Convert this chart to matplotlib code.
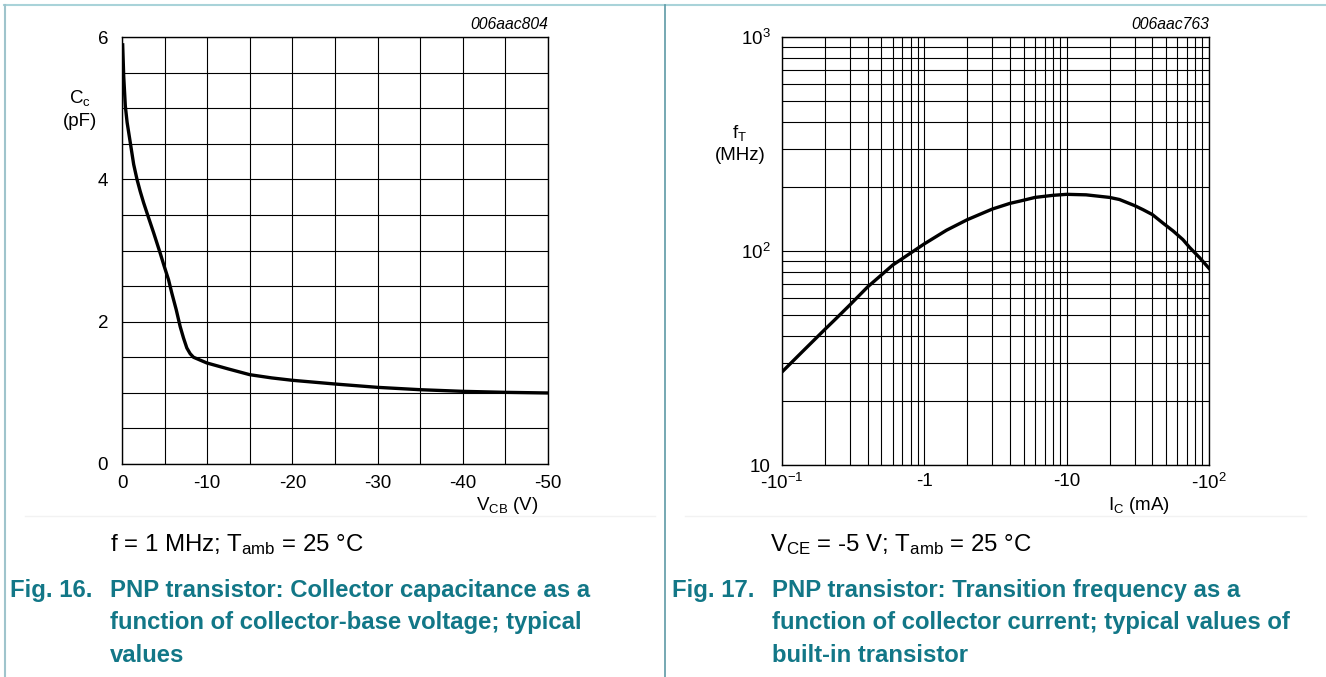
import matplotlib
matplotlib.use("Agg")
import matplotlib.pyplot as plt
from matplotlib.lines import Line2D
from matplotlib.ticker import FixedLocator, NullFormatter
import numpy as np

plt.rcParams['font.family'] = ['Liberation Sans', 'DejaVu Sans']
plt.rcParams['mathtext.fontset'] = 'custom'
plt.rcParams['mathtext.rm'] = 'Liberation Sans'
plt.rcParams['mathtext.it'] = 'Liberation Sans:italic'
plt.rcParams['mathtext.bf'] = 'Liberation Sans:bold'

# ---------------- data ----------------
# Fig 16: collector capacitance vs collector-base voltage
vcb = [-0.08, -0.2, -0.39, -0.6, -0.98, -1.37, -1.76, -2.14, -2.54,
       -3.12, -3.71, -4.49, -4.95, -5.46, -5.85, -6.36, -6.83, -7.22, -7.61,
       -8.0, -8.39, -9.17, -9.95, -12.5, -15.0, -17.55, -20, -25, -30, -35,
       -40, -45, -50]
cc = [5.89, 5.45, 5.03, 4.80, 4.51, 4.21, 4.00, 3.83, 3.67,
      3.46, 3.25, 2.96, 2.78, 2.59, 2.40, 2.17, 1.93, 1.77, 1.63,
      1.55, 1.50, 1.46, 1.42, 1.335, 1.255, 1.21, 1.176, 1.124, 1.077, 1.044,
      1.021, 1.007, 0.998]
left_xticks = [0, -10, -20, -30, -40, -50]
left_xticklabels = ['0', '-10', '-20', '-30', '-40', '-50']
left_yticks = [0, 2, 4, 6]
left_yticklabels = ['0', '2', '4', '6']

# Fig 17: transition frequency vs collector current (magnitude, mA)
ic = [0.1016, 0.1406, 0.2, 0.241, 0.3, 0.4, 0.485, 0.6, 0.88, 1.0, 1.43, 2.0,
      3.0, 4.0, 4.68, 6.0, 8.0, 10.0, 13.7, 20.0, 23.5, 30.0, 34.4, 40.0,
      47.5, 56.0, 65.6, 73.0, 86.0, 100.0]
ft = [27.5, 34.1, 43, 48.5, 56, 68, 76, 86, 102, 108, 125, 140,
      157, 167, 171, 178, 182, 184, 183, 178, 174, 163, 156, 148,
      135, 124, 113, 104, 93, 83]
right_xticks = [0.1, 1, 10, 100]
right_xticklabels = ['-10$^{\\mathregular{-1}}$', '-1', '-10', '-10$^{\\mathregular{2}}$']
right_yticks = [10, 100, 1000]
right_yticklabels = ['10', '10$^{\\mathregular{2}}$', '10$^{\\mathregular{3}}$']

W, H = 1326, 677
fig = plt.figure(figsize=(W / 100, H / 100), dpi=100)
fig.patch.set_facecolor('white')

def fx(px):
    return px / W

def fy(py):
    return 1 - py / H

tick_fs = 13.5
label_fs = 13.5
teal = '#127787'

# ---------------- left chart ----------------
axL = fig.add_axes([fx(122), fy(464), fx(548) - fx(122), fy(37) - fy(464)])
axL.set_xlim(0, -50)
axL.set_ylim(0, 6)
axL.set_xticks(left_xticks)
axL.set_xticklabels(left_xticklabels)
axL.xaxis.set_minor_locator(FixedLocator(list(np.arange(-5, -50, -10))))
axL.set_yticks(left_yticks)
axL.set_yticklabels(left_yticklabels)
axL.yaxis.set_minor_locator(FixedLocator([0.5, 1, 1.5, 2.5, 3, 3.5, 4.5, 5, 5.5]))
axL.grid(True, which='both', color='black', linewidth=0.8)
axL.tick_params(which='both', length=0)
axL.tick_params(axis='y', pad=10, labelsize=tick_fs)
axL.tick_params(axis='x', pad=8, labelsize=tick_fs)
for s in axL.spines.values():
    s.set_linewidth(1.0)
axL.plot(vcb, cc, color='black', linewidth=2.4, solid_joinstyle='round', zorder=5)
axL.text(1.0, 1.012, '006aac804', transform=axL.transAxes, ha='right', va='bottom',
         fontsize=11.3, style='italic')
fig.text(fx(80), fy(98), 'C$_{\\mathregular{c}}$', ha='center', va='center', fontsize=label_fs)
fig.text(fx(80), fy(121), '(pF)', ha='center', va='center', fontsize=label_fs)
fig.text(fx(538), fy(505), 'V$_{\\mathregular{CB}}$ (V)', ha='right', va='center', fontsize=label_fs)

# ---------------- right chart ----------------
axR = fig.add_axes([fx(782), fy(465), fx(1209) - fx(782), fy(37) - fy(465)])
axR.set_xscale('log')
axR.set_yscale('log')
axR.set_xlim(0.1, 100)
axR.set_ylim(10, 1000)
axR.set_xticks(right_xticks)
axR.set_xticklabels(right_xticklabels)
axR.set_yticks(right_yticks)
axR.set_yticklabels(right_yticklabels)
minors_x = [m * d for d in (0.1, 1, 10) for m in range(2, 10)]
minors_y = [m * d for d in (10, 100) for m in range(2, 10)]
axR.xaxis.set_minor_locator(FixedLocator(minors_x))
axR.yaxis.set_minor_locator(FixedLocator(minors_y))
axR.xaxis.set_minor_formatter(NullFormatter())
axR.yaxis.set_minor_formatter(NullFormatter())
axR.grid(True, which='both', color='black', linewidth=0.8)
axR.tick_params(which='both', length=0)
axR.tick_params(axis='y', pad=8, labelsize=tick_fs)
axR.tick_params(axis='x', pad=6, labelsize=tick_fs)
for s in axR.spines.values():
    s.set_linewidth(1.0)
axR.plot(ic, ft, color='black', linewidth=2.4, solid_joinstyle='round', zorder=5)
axR.text(1.0, 1.012, '006aac763', transform=axR.transAxes, ha='right', va='bottom',
         fontsize=11.3, style='italic')
fig.text(fx(740), fy(133), 'f$_{\\mathregular{T}}$', ha='center', va='center', fontsize=label_fs)
fig.text(fx(740), fy(155), '(MHz)', ha='center', va='center', fontsize=label_fs)
fig.text(fx(1170), fy(505), 'I$_{\\mathregular{C}}$ (mA)', ha='right', va='center', fontsize=label_fs)

# ---------------- captions ----------------
cond_fs = 17.3
fig.text(fx(110), fy(545), 'f = 1 MHz; T$_{\\mathregular{amb}}$ = 25 °C', ha='left', va='center',
         fontsize=cond_fs)
fig.text(fx(770), fy(545), 'V$_{\\mathregular{CE}}$ = -5 V; T$_{\\mathregular{amb}}$ = 25 °C', ha='left',
         va='center', fontsize=cond_fs)

cap_fs = 17.2
for x0, num, lines in [
    (10, 'Fig. 16.', ['PNP transistor: Collector capacitance as a',
                      'function of collector-base voltage; typical',
                      'values']),
    (672, 'Fig. 17.', ['PNP transistor: Transition frequency as a',
                       'function of collector current; typical values of',
                       'built-in transistor']),
]:
    fig.text(fx(x0), fy(590), num, ha='left', va='center', fontsize=cap_fs,
             fontweight='bold', color=teal)
    for i, ln in enumerate(lines):
        fig.text(fx(x0 + 100), fy(590 + 33 * i), ln, ha='left', va='center',
                 fontsize=cap_fs, fontweight='bold', color=teal)

# ---------------- frame lines ----------------
border = '#a9d3d9'
fig.add_artist(Line2D([fx(4), fx(1326)], [fy(5), fy(5)], color=border, linewidth=1.5))
fig.add_artist(Line2D([fx(4.5), fx(4.5)], [fy(5), fy(677)], color='#9fc4cc', linewidth=1.5))
fig.add_artist(Line2D([fx(665), fx(665)], [fy(5), fy(677)], color='#5e9aa6', linewidth=1.2))
faint = '#f2f2f2'
fig.add_artist(Line2D([fx(25), fx(655)], [fy(516), fy(516)], color=faint, linewidth=1))
fig.add_artist(Line2D([fx(685), fx(1306)], [fy(516), fy(516)], color=faint, linewidth=1))

fig.savefig('out.png', dpi=100, facecolor='white')
